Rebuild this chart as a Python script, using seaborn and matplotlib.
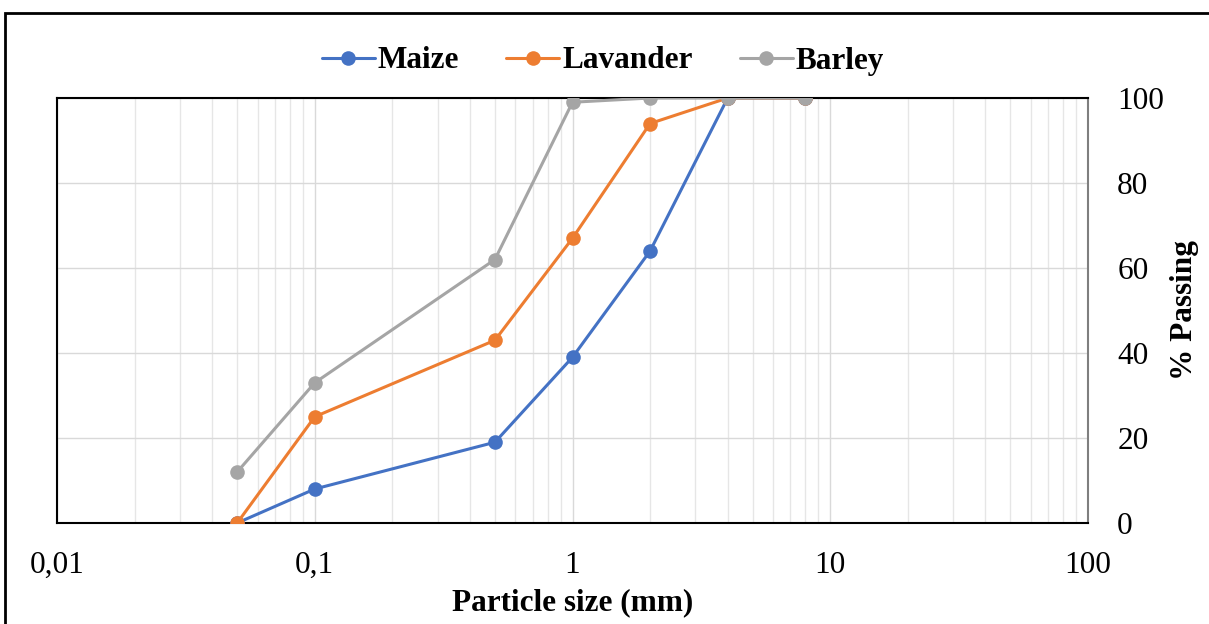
import matplotlib
matplotlib.use("Agg")
import matplotlib.pyplot as plt
import matplotlib.ticker as mticker
from matplotlib.patches import Rectangle
import numpy as np
import pandas as pd
import seaborn as sns

# ─── DATA ────────────────────────────────────────────────────────────────────
sizes = [0.05, 0.1, 0.5, 1, 2, 4, 8]
maize = [0, 8, 19, 39, 64, 100, 100]
lavander = [0, 25, 43, 67, 94, 100, 100]
barley = [12, 33, 62, 99, 100, 100, 100]
series = ["Maize", "Lavander", "Barley"]
colors = ["#4472C4", "#ED7D31", "#A5A5A5"]
x_ticks = [0.01, 0.1, 1, 10, 100]
x_tick_labels = ["0,01", "0,1", "1", "10", "100"]
y_ticks = [0, 20, 40, 60, 80, 100]

df = pd.DataFrame({
    "size": sizes * 3,
    "passing": maize + lavander + barley,
    "material": [s for s in series for _ in sizes],
})

sns.set_style("white")
plt.rcParams["font.family"] = ["Liberation Serif", "DejaVu Serif"]
plt.rcParams["text.color"] = "black"
plt.rcParams["axes.labelcolor"] = "black"
plt.rcParams["xtick.color"] = "black"
plt.rcParams["ytick.color"] = "black"
FS = 22.5

fig = plt.figure(figsize=(12.09, 6.24), dpi=100)
ax = fig.add_axes([57 / 1209, 1 - 523 / 624, (1088 - 57) / 1209, (523 - 98) / 624])

sns.lineplot(data=df, x="size", y="passing", hue="material", hue_order=series,
             palette=colors, marker="o", markersize=10.5, markeredgewidth=0,
             linewidth=2.2, ax=ax, legend=False, zorder=3)

ax.set_xscale("log")
ax.set_xlim(0.01, 100)
ax.set_ylim(0, 100)
ax.set_xticks(x_ticks)
ax.set_xticklabels(x_tick_labels)
ax.xaxis.set_minor_locator(mticker.LogLocator(base=10, subs=np.arange(2, 10)))
ax.xaxis.set_minor_formatter(mticker.NullFormatter())
ax.set_yticks(y_ticks)
ax.yaxis.tick_right()
ax.yaxis.set_label_position("right")
ax.tick_params(axis="both", which="both", length=0, labelsize=FS)
ax.tick_params(axis="x", pad=20)
ax.tick_params(axis="y", pad=21)

ax.grid(True, which="major", color="#d9d9d9", linewidth=1)
ax.grid(True, which="minor", axis="x", color="#e6e6e6", linewidth=1)

for side in ["left", "right", "top", "bottom"]:
    ax.spines[side].set_color("black")
    ax.spines[side].set_linewidth(1.5)
ax.spines["right"].set_color("#7f7f7f")

ax.set_xlabel("Particle size (mm)", fontsize=FS, fontweight="bold", labelpad=6)
ax.set_ylabel("% Passing", fontsize=FS, fontweight="bold", labelpad=4)

handles = [plt.Line2D([], [], color=c, marker="o", markersize=10.5, linewidth=2.2,
                      markeredgewidth=0) for c in colors]
fig.legend(handles, series, loc="center", bbox_to_anchor=(603 / 1209, 1 - 61 / 624),
           ncol=3, frameon=False, handlelength=1.7, columnspacing=1.5,
           handletextpad=0.1, prop={"size": FS, "weight": "bold"})

# outer chart frame
fig.patches.append(Rectangle((5 / 1209, -0.1), 1.2, 1 - 13 / 624 + 0.1,
                             transform=fig.transFigure, fill=False,
                             edgecolor="black", linewidth=2))

fig.savefig("out.png", dpi=100, facecolor="white")
